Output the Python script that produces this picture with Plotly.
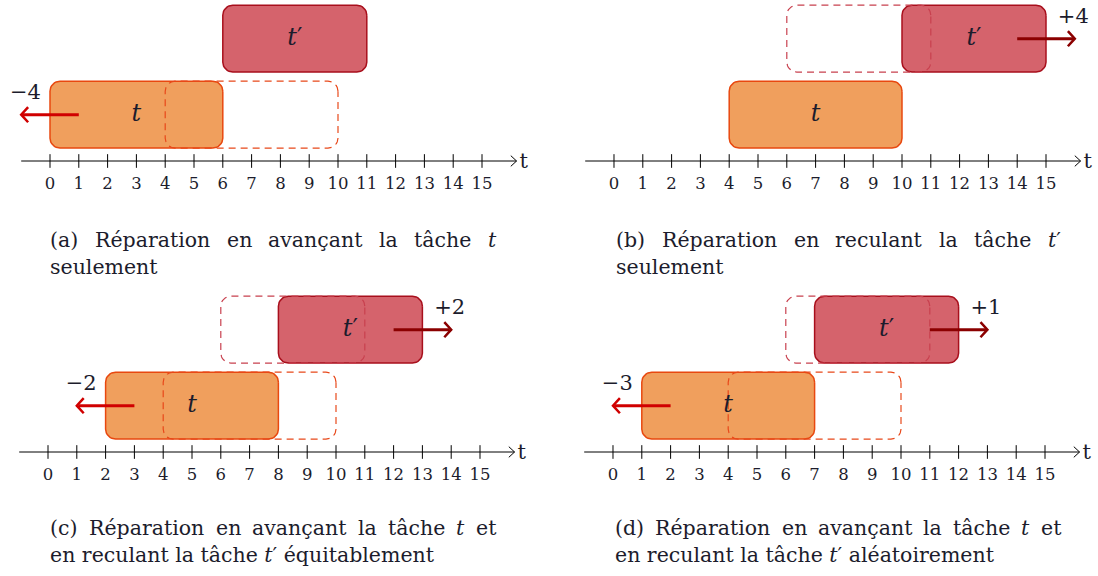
import numpy as np
import plotly.graph_objects as go

# ---------------- data ----------------
PANELS = ["a", "b", "c", "d"]
T_ORIG_START = 4
T_DURATION = 6
TP_ORIG_START = 6
TP_DURATION = 5
T_NEW_START = [0, 4, 2, 1]
TP_NEW_START = [6, 10, 8, 7]
T_SHIFT = [-4, 0, -2, -3]
TP_SHIFT = [0, 4, 2, 1]
TICKS = list(range(16))
TICK_LABELS = [str(v) for v in TICKS]
CAPTION_LINE1 = [
    "(a) Réparation en avançant la tâche <i>t</i>",
    "(b) Réparation en reculant la tâche <i>t</i>′",
    "(c) Réparation en avançant la tâche <i>t</i> et",
    "(d) Réparation en avançant la tâche <i>t</i> et",
]
CAPTION_LINE2 = [
    "seulement",
    "seulement",
    "en reculant la tâche <i>t</i>′ équitablement",
    "en reculant la tâche <i>t</i>′ aléatoirement",
]

# ---------------- layout geometry (pixels) ----------------
W, H = 1098, 576
PANEL_X0 = [50, 614, 48, 613]      # pixel of value 0
AXIS_Y = [161, 161, 452, 452]      # pixel of the time axis
UX, UY = 28.8, 76.0
XR = [-1.4, 16.8]
YR = [-0.7, 2.1]
CAP_X = [48, 614, 48, 613]
CAP_Y = [240, 240, 528, 528]
CAP_W = 446
LINE_H = 27
FONT = "DejaVu Serif"
CAP_SIZE = 20.5

C_T_FILL = "rgba(236,132,48,0.78)"
C_T_LINE = "#E8480F"
C_TP_FILL = "rgba(200,50,62,0.76)"
C_TP_LINE = "#A80F1C"
C_T_ARROW = "#D00000"
C_TP_ARROW = "#8B0000"
C_T_DASH = "#E8481A"
C_TP_DASH = "#C8404E"
TEXT_C = "#1c1c2c"

BOX_LO, BOX_HI = 0.17, 1.05
RX, RY = 10 / UX, 10 / UY

fig = go.Figure()


def rrect(x0, x1, y0, y1, rx=RX, ry=RY, n=8):
    xs, ys = [], []
    corners = [(x1 - rx, y1 - ry, 0), (x0 + rx, y1 - ry, 90),
               (x0 + rx, y0 + ry, 180), (x1 - rx, y0 + ry, 270)]
    for cx, cy, a0 in corners:
        for k in range(n + 1):
            a = np.radians(a0 + 90 * k / n)
            xs.append(cx + rx * np.cos(a))
            ys.append(cy + ry * np.sin(a))
    xs.append(xs[0]); ys.append(ys[0])
    return xs, ys


# DejaVu Serif approximate advance widths (per em)
WID = {" ": .318, "(": .39, ")": .39, "a": .596, "b": .641, "c": .56, "d": .641,
       "e": .592, "h": .645, "i": .32, "l": .32, "m": .948, "n": .645, "o": .602,
       "p": .641, "q": .641, "r": .478, "s": .513, "t": .402, "u": .645, "v": .565,
       "R": .77, "é": .592, "â": .596, "ç": .56, "′": .3}


def wwidth(word, size):
    s = word.replace("<i>", "").replace("</i>", "")
    return sum(WID.get(ch, .6) for ch in s) * size


for i, p in enumerate(PANELS):
    n = i + 1
    xa = "x" if n == 1 else f"x{n}"
    ya = "y" if n == 1 else f"y{n}"
    x0p, ayp = PANEL_X0[i], AXIS_Y[i]
    dx = [(x0p + XR[0] * UX) / W, min(1.0, (x0p + XR[1] * UX) / W)]
    dy = [1 - (ayp - YR[0] * UY) / H, min(1.0, 1 - (ayp - YR[1] * UY) / H)]
    xr = [XR[0], (dx[1] * W - x0p) / UX]
    yr = [YR[0], (ayp - (1 - dy[1]) * H) / UY]
    fig.layout[f"xaxis{'' if n == 1 else n}"] = dict(domain=dx, range=xr, visible=False, fixedrange=True)
    fig.layout[f"yaxis{'' if n == 1 else n}"] = dict(domain=dy, range=yr, visible=False, fixedrange=True)

    def add(**kw):
        kw.setdefault("showlegend", False)
        kw.setdefault("hoverinfo", "skip")
        kw.setdefault("cliponaxis", False)
        fig.add_trace(go.Scatter(xaxis=xa, yaxis=ya, **kw))

    # time axis
    add(x=[-1, 16.2], y=[0, 0], mode="lines", line=dict(color="black", width=1))
    add(x=[16.0, 16.2, 16.0], y=[0.07, 0, -0.07], mode="lines", line=dict(color="black", width=1))
    tx, ty = [], []
    for v in TICKS:
        tx += [v, v, None]; ty += [-0.09, 0.09, None]
    add(x=tx, y=ty, mode="lines", line=dict(color="black", width=1))
    add(x=TICKS, y=[-0.32] * len(TICKS), mode="text", text=TICK_LABELS,
        textfont=dict(family=FONT, size=16.5, color=TEXT_C))
    add(x=[16.45], y=[-0.02], mode="text", text=["t"], textfont=dict(family=FONT, size=21, color=TEXT_C))

    # moved (filled) boxes
    ts, tps = T_NEW_START[i], TP_NEW_START[i]
    bx, by = rrect(ts, ts + T_DURATION, BOX_LO, BOX_HI)
    add(x=bx, y=by, mode="lines", fill="toself", fillcolor=C_T_FILL, line=dict(color=C_T_LINE, width=1.5))
    bx, by = rrect(tps, tps + TP_DURATION, 1 + BOX_LO, 1 + BOX_HI)
    add(x=bx, y=by, mode="lines", fill="toself", fillcolor=C_TP_FILL, line=dict(color=C_TP_LINE, width=1.5))

    # original (dashed) boxes
    if T_SHIFT[i] != 0:
        bx, by = rrect(T_ORIG_START, T_ORIG_START + T_DURATION, BOX_LO, BOX_HI)
        add(x=bx, y=by, mode="lines", line=dict(color=C_T_DASH, width=1.2, dash="7px,5px"))
    if TP_SHIFT[i] != 0:
        bx, by = rrect(TP_ORIG_START, TP_ORIG_START + TP_DURATION, 1 + BOX_LO, 1 + BOX_HI)
        add(x=bx, y=by, mode="lines", line=dict(color=C_TP_DASH, width=1.2, dash="7px,5px"))

    # labels in boxes
    yc0 = (BOX_LO + BOX_HI) / 2
    add(x=[ts + T_DURATION / 2, tps + TP_DURATION / 2], y=[yc0, 1 + yc0], mode="text",
        text=["<i>t</i>", "<i>t</i>′"], textfont=dict(family=FONT, size=24, color=TEXT_C))

    # shift arrows
    if T_SHIFT[i] != 0:
        a0 = ts + 1
        tip = a0 - 2
        add(x=[a0, tip + 0.05], y=[yc0, yc0], mode="lines", line=dict(color=C_T_ARROW, width=3))
        add(x=[tip + 0.24, tip, tip + 0.24], y=[yc0 + 0.1, yc0, yc0 - 0.1], mode="lines",
            line=dict(color=C_T_ARROW, width=2.5))
        add(x=[tip + 0.15], y=[yc0 + 0.28], mode="text", text=[f"−{abs(T_SHIFT[i])}"],
            textfont=dict(family=FONT, size=21, color=TEXT_C))
    if TP_SHIFT[i] != 0:
        a0 = tps + TP_DURATION - 1
        tip = a0 + 2
        yc1 = 1 + yc0
        add(x=[a0, tip - 0.05], y=[yc1, yc1], mode="lines", line=dict(color=C_TP_ARROW, width=3))
        add(x=[tip - 0.24, tip, tip - 0.24], y=[yc1 + 0.1, yc1, yc1 - 0.1], mode="lines",
            line=dict(color=C_TP_ARROW, width=2.5))
        add(x=[tip - 0.05], y=[yc1 + 0.28], mode="text", text=[f"+{TP_SHIFT[i]}"],
            textfont=dict(family=FONT, size=21, color=TEXT_C))

# ---------------- captions ----------------
ann = []
for i in range(4):
    # justified first line: one annotation per word
    words = CAPTION_LINE1[i].split(" ")
    widths = [wwidth(w, CAP_SIZE) for w in words]
    gap = (CAP_W - sum(widths)) / (len(words) - 1)
    x = CAP_X[i]
    for w, wd in zip(words, widths):
        ann.append(dict(x=x / W, y=1 - CAP_Y[i] / H, xref="paper", yref="paper", text=w,
                        xanchor="left", yanchor="middle", showarrow=False,
                        font=dict(family=FONT, size=CAP_SIZE, color=TEXT_C)))
        x += wd + gap
    ann.append(dict(x=CAP_X[i] / W, y=1 - (CAP_Y[i] + LINE_H) / H, xref="paper", yref="paper",
                    text=CAPTION_LINE2[i], xanchor="left", yanchor="middle", showarrow=False,
                    font=dict(family=FONT, size=CAP_SIZE, color=TEXT_C)))

fig.update_layout(width=W, height=H, margin=dict(l=0, r=0, t=0, b=0),
                  paper_bgcolor="white", plot_bgcolor="white", annotations=ann)
fig.write_html("out.html", config={"displayModeBar": False},
               post_script="document.body.style.margin='0';document.body.style.overflow='hidden';")
